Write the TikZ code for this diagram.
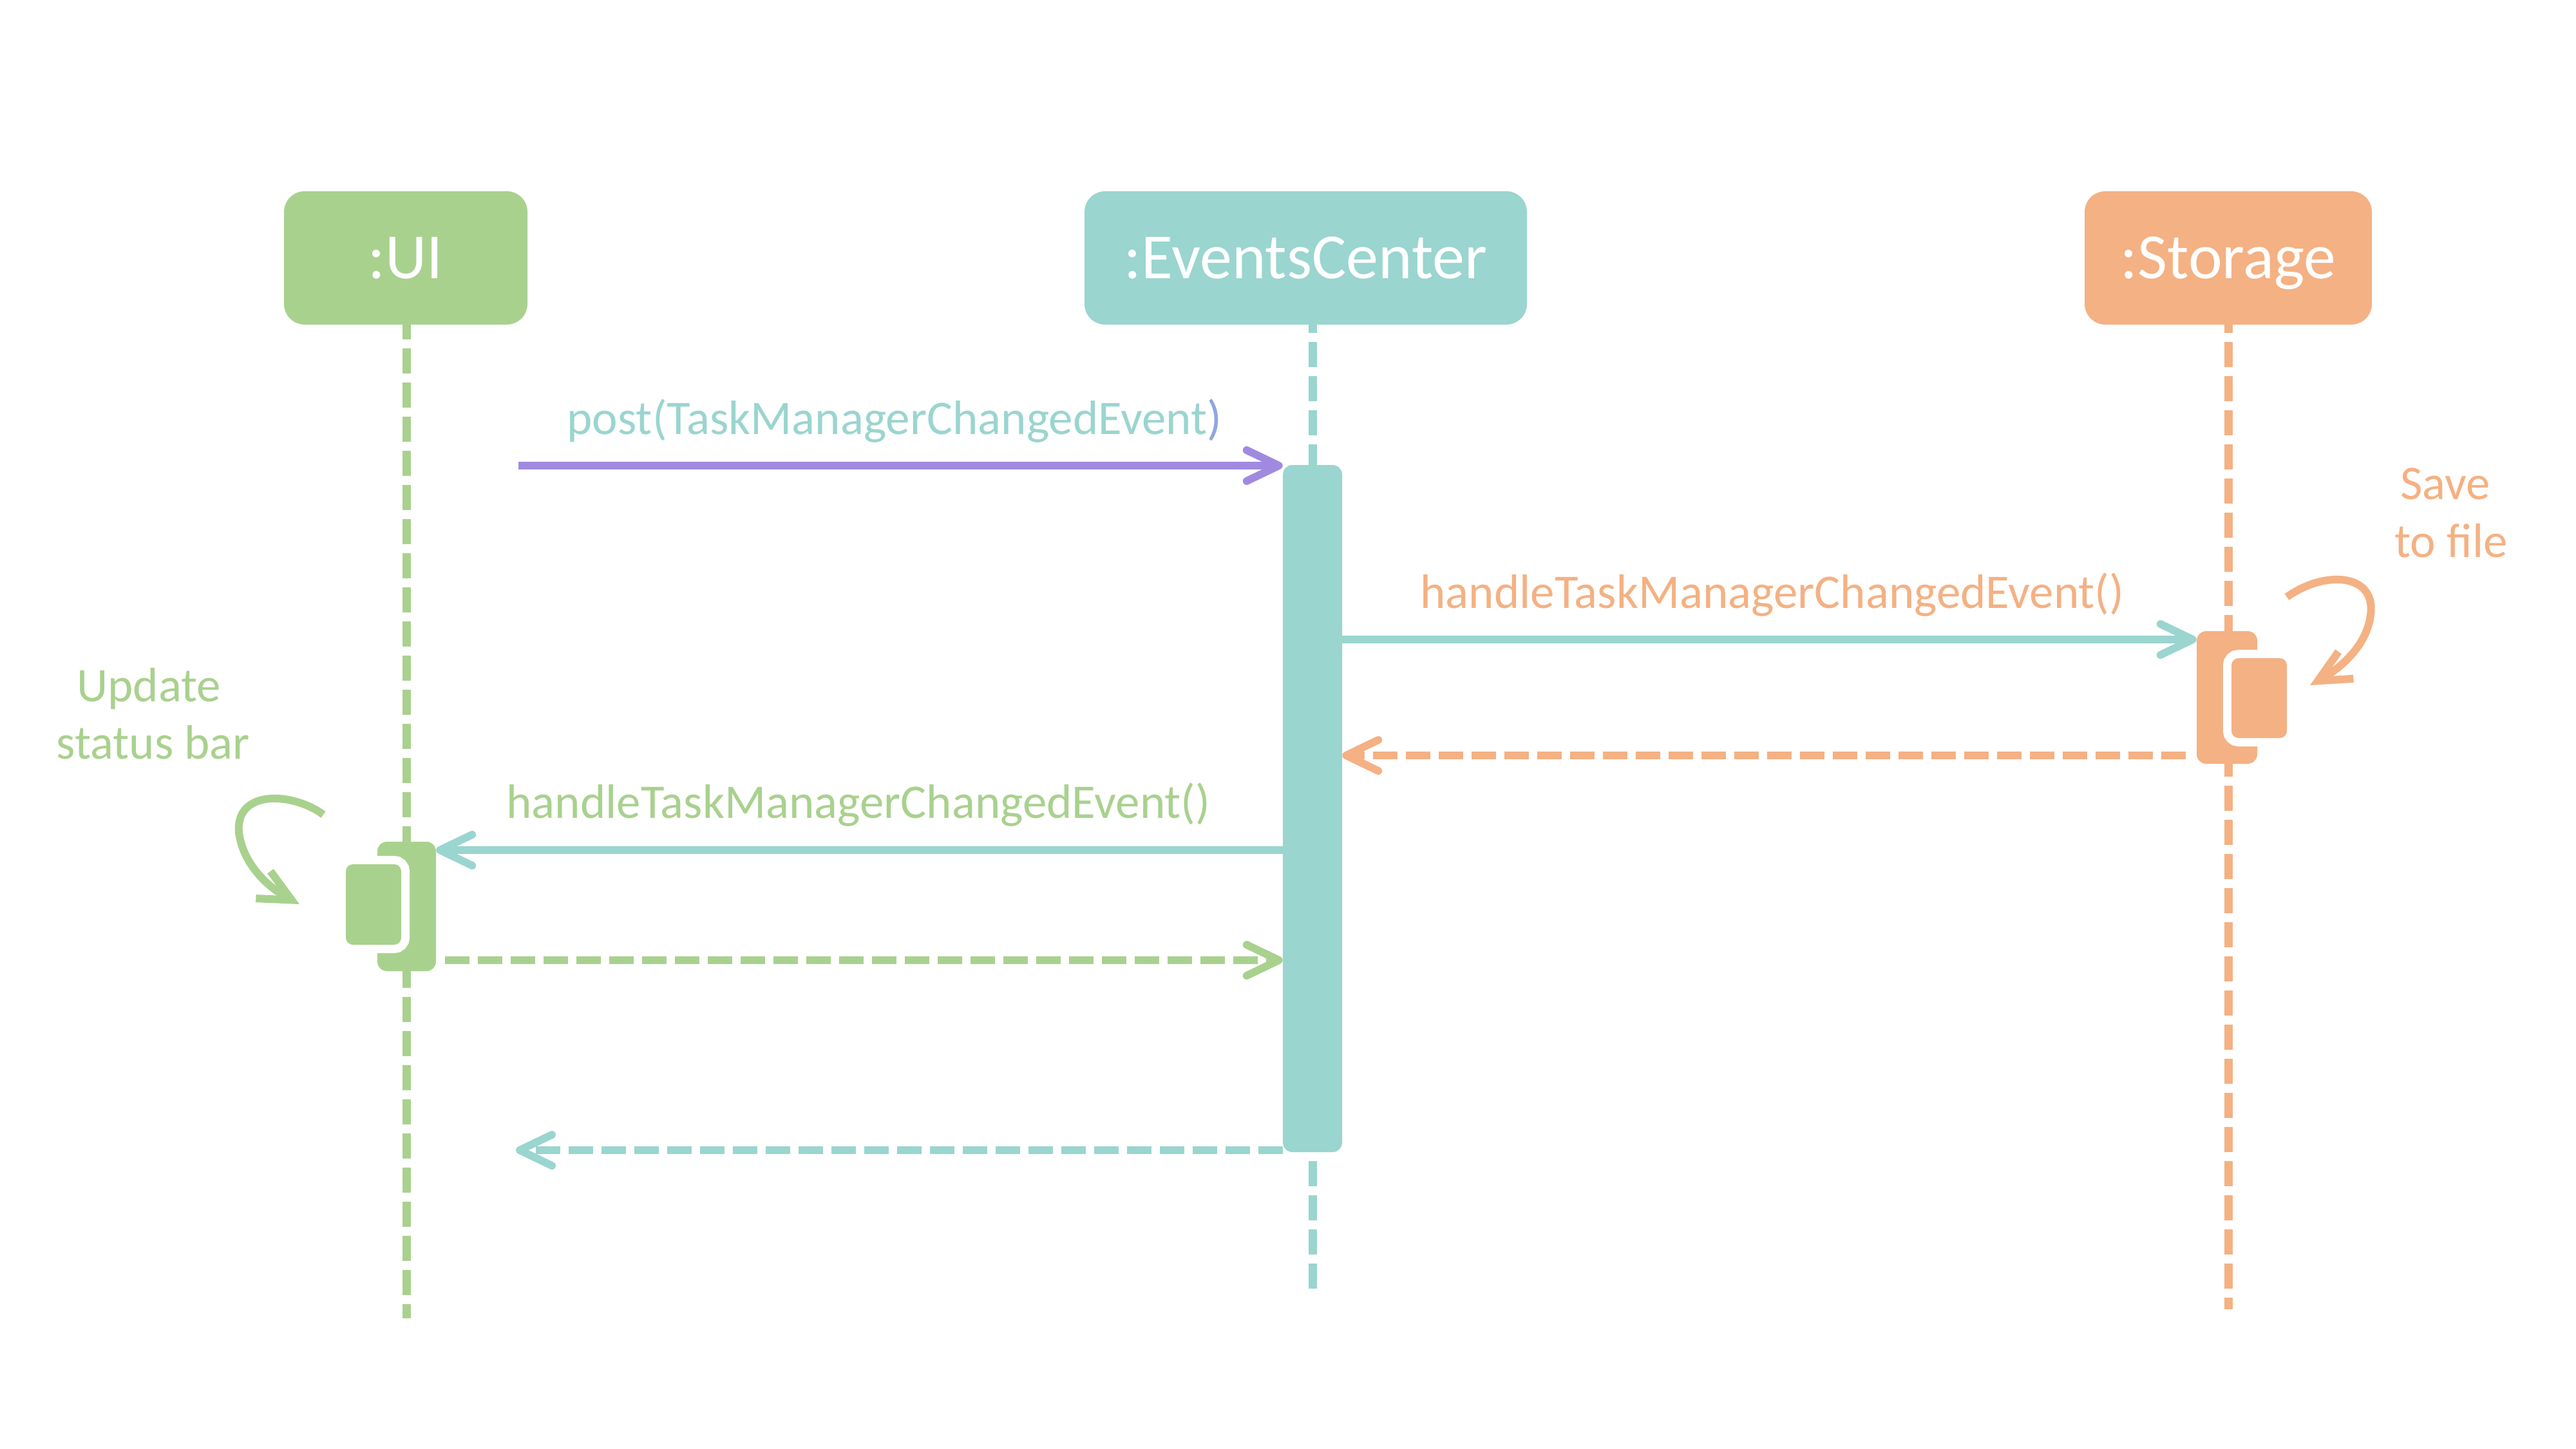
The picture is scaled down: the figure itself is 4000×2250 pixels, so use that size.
\documentclass[tikz,border=0pt]{standalone}
\usepackage{fontspec}
\setmainfont{Carlito}
\usetikzlibrary{arrows.meta}
\definecolor{cgreen}{HTML}{A9D18E}
\definecolor{cteal}{HTML}{9AD5CF}
\definecolor{corange}{HTML}{F4B183}
\definecolor{cpurple}{HTML}{A08AE0}
\definecolor{cparen}{HTML}{8FA6DF}
\begin{document}
\begin{tikzpicture}[x=1pt,y=-1pt,
  lifebox/.style={rounded corners=32pt, minimum height=207pt, inner sep=0pt, text=white,
    font=\fontsize{100}{120}\selectfont, text height=63pt, text depth=0pt},
  lifeline/.style={line width=13pt, dash pattern=on 39pt off 14pt},
  actbar/.style={rounded corners=15pt, inner sep=0pt},
  innerbar/.style={actbar, rounded corners=11pt, preaction={draw=white, line width=26pt}},
  msg/.style={line width=12pt, -{Straight Barb[length=50pt,width=48pt,round]}},
  ret/.style={msg, dash pattern=on 38pt off 13pt},
  lbl/.style={font=\fontsize{75}{90}\selectfont, anchor=base, inner sep=0pt},
  selfarr/.style={line width=12pt, -{Straight Barb[length=50pt,width=48pt]}}
]
\useasboundingbox (0,0) rectangle (4000,2250);

% lifeline heads
\node[lifebox, fill=cgreen,  minimum width=378pt] (ui) at (630,400.5)    {:UI};
\node[lifebox, fill=cteal,   minimum width=687pt] (ec) at (2027.5,400.5) {:EventsCenter};
\node[lifebox, fill=corange, minimum width=446pt] (st) at (3460,400.5)   {:Storage};

% lifelines
\coordinate (uiend) at (631,2047);
\coordinate (ecend) at (2038,2013);
\coordinate (stend) at (3460,2033);
\draw[lifeline, cgreen,  dash phase=16pt] (ui.south -| uiend) -- (uiend);
\draw[lifeline, cteal,   dash phase=26pt] (ec.south -| ecend) -- (ecend);
\draw[lifeline, corange, dash phase=26pt] (st.south -| stend) -- (stend);

% activations
\node[actbar, fill=cteal, minimum width=92pt, minimum height=1067pt] (ecbar) at (2038,1255.5) {};
\node[actbar, fill=corange, minimum width=94pt, minimum height=206pt] (stout) at (3458,1083) {};
\node[innerbar, fill=corange, minimum width=86pt, minimum height=124pt] (stin) at (3508,1084) {};
\node[actbar, fill=cgreen, minimum width=91pt, minimum height=201pt] (uiout) at (631.5,1407.5) {};
\node[innerbar, fill=cgreen, minimum width=86pt, minimum height=125pt] (uiin) at (580,1404.5) {};

% message levels
\coordinate (postS) at (805,723);
\coordinate (m2) at (0,993);
\coordinate (m3) at (0,1173);
\coordinate (m4) at (0,1320);
\coordinate (m5) at (0,1491);
\coordinate (uiret) at (801,1786);

% messages
\draw[msg, cpurple] (postS) -- (ecbar.west |- postS);
\draw[msg, cteal] (ecbar.east |- m2) -- (stout.west |- m2);
\draw[ret, corange, shorten <=17pt] (stout.west |- m3) -- (ecbar.east |- m3);
\draw[msg, cteal] (ecbar.west |- m4) -- (uiout.east |- m4);
\draw[ret, cgreen, shorten <=14pt] (uiout.east |- m5) -- (ecbar.west |- m5);
\draw[ret, cteal] (ecbar.west |- uiret) -- (uiret);

% self calls
\coordinate (sa1) at (3551,927);
\coordinate (sa2) at (3681,955);
\coordinate (sa3) at (3587,1064);
\draw[selfarr, corange] (sa1) .. controls (3610,885) and (3690,890) .. (sa2)
  .. controls (3675,1005) and (3630,1040) .. (sa3);
\coordinate (ua1) at (502,1265);
\coordinate (ua2) at (371,1293);
\coordinate (ua3) at (465,1404);
\draw[selfarr, cgreen] (ua1) .. controls (455,1230) and (365,1225) .. (ua2)
  .. controls (378,1345) and (420,1380) .. (ua3);

% labels
\node[lbl, text=cteal] (postlbl) at (1389,674) {post(TaskManagerChangedEvent\textcolor{cparen}{)}};
\node[lbl, text=corange] (hlbl1) at (2752,944) {handleTaskManagerChangedEvent()};
\node[lbl, text=cgreen] (hlbl2) at (1333,1270) {handleTaskManagerChangedEvent()};
\node[lbl, text=corange] (save1) at (3797,775) {Save};
\node[lbl, text=corange] (save2) at (3806,865) {to file};
\node[lbl, text=cgreen] (upd1) at (231,1089) {Update};
\node[lbl, text=cgreen] (upd2) at (238,1178) {status bar};
\end{tikzpicture}
\end{document}
